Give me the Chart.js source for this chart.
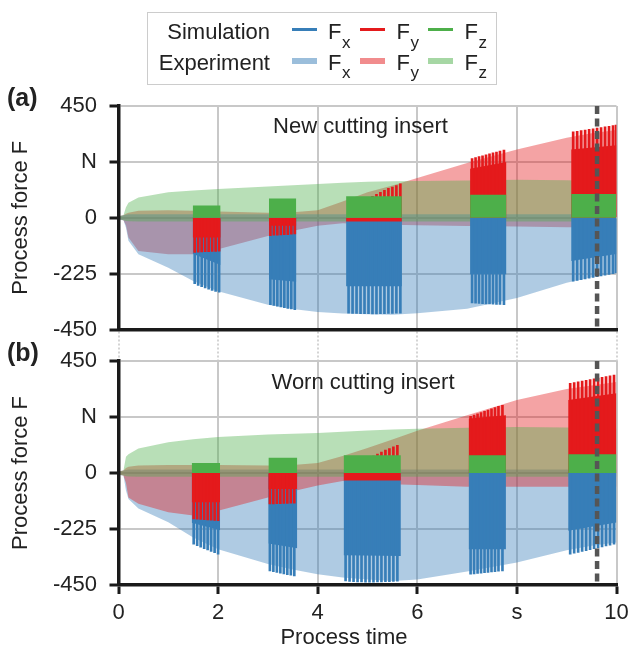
<!DOCTYPE html>
<html><head><meta charset="utf-8">
<script src="https://cdn.jsdelivr.net/npm/chart.js@4.4.1/dist/chart.umd.min.js"></script>
<style>
html,body{margin:0;padding:0;background:#fff;}
body{width:628px;height:646px;position:relative;overflow:hidden;font-family:"Liberation Sans",Arial,sans-serif;color:#222;}
canvas{position:absolute;left:0;top:0;}
.t{position:absolute;white-space:nowrap;font-size:22px;line-height:22px;}
.s{position:absolute;white-space:nowrap;font-size:17px;line-height:17px;}
.b{position:absolute;white-space:nowrap;font-size:25px;line-height:25px;font-weight:bold;}
.ln{position:absolute;width:25px;}
</style></head><body>
<canvas id="cA" width="628" height="646"></canvas>
<canvas id="cB" width="628" height="646"></canvas>

<div style="position:absolute;left:147px;top:12px;width:348px;height:71px;border:1.5px solid #ccc;"></div>
<div class="t" style="right:358px;top:21.4px;">Simulation</div>
<div class="t" style="right:358px;top:52.4px;">Experiment</div>
<div class="ln" style="left:292px;top:27.7px;height:3px;background:#377eb8"></div>
<div class="ln" style="left:360px;top:27.7px;height:3px;background:#e41a1c"></div>
<div class="ln" style="left:428px;top:27.7px;height:3px;background:#4daf4a"></div>
<div class="ln" style="left:292px;top:57.7px;height:6px;background:rgba(55,126,184,0.5)"></div>
<div class="ln" style="left:360px;top:57.7px;height:6px;background:rgba(228,26,28,0.5)"></div>
<div class="ln" style="left:428px;top:57.7px;height:6px;background:rgba(77,175,74,0.5)"></div>
<div class="t" style="left:328px;top:21.4px">F</div><div class="s" style="left:342px;top:33.9px">x</div>
<div class="t" style="left:396.5px;top:21.4px">F</div><div class="s" style="left:410.5px;top:33.9px">y</div>
<div class="t" style="left:464.5px;top:21.4px">F</div><div class="s" style="left:478.5px;top:33.9px">z</div>
<div class="t" style="left:328px;top:52.4px">F</div><div class="s" style="left:342px;top:63.9px">x</div>
<div class="t" style="left:396.5px;top:52.4px">F</div><div class="s" style="left:410.5px;top:63.9px">y</div>
<div class="t" style="left:464.5px;top:52.4px">F</div><div class="s" style="left:478.5px;top:63.9px">z</div>

<div class="b" style="left:7px;top:85.3px">(a)</div>
<div class="b" style="left:7px;top:340.3px">(b)</div>
<div class="t" style="left:244px;width:200px;text-align:center;top:626.4px">Process time</div>

<script>
// ---------- axis ticks ----------
const yTicks = [-450, -225, 0, 225, 450];
const yTickLabels = ['-450', '-225', '0', 'N', '450'];
const xTicks = [0, 2, 4, 6, 8, 10];
const xTickLabels = ['0', '2', '4', '6', 's', '10'];
const cutLineTime = 9.61;

// ---------- experiment envelopes (shared time grid) ----------
const tExp = [0, 0.1, 0.15, 0.2, 0.4, 1, 1.5, 2, 3, 3.5, 4, 4.5, 5, 5.5, 6, 7, 8, 9, 9.5, 10];
// new cutting insert
const fxExpLowNew  = [-8, -10, -40, -93, -147, -201, -255, -296, -350, -367, -380, -386, -389, -391, -385, -366, -323, -262, -240, -222];
const fxExpHighNew = [6, 10, 12, 14, 14, 14, 14, 14, 14, 14, 14, 14, 14, 14, 14, 14, 14, 14, 14, 14];
const fyExpLowNew  = [-6, -10, -30, -80, -134, -147, -147, -127, -73, -52, -32, -22, -25, -28, -30, -33, -35, -38, -38, -38];
const fyExpHighNew = [6, 10, 16, 20, 28, 30, 28, 25, 20, 22, 30, 65, 103, 130, 160, 220, 275, 322, 340, 353];
const fzExpLowNew  = [-6, -10, -13, -14, -15, -15, -15, -15, -15, -15, -15, -15, -15, -15, -15, -15, -15, -15, -15, -15];
const fzExpHighNew = [6, 10, 42, 60, 82, 103, 110, 116, 126, 131, 136, 141, 145, 147, 148, 150, 153, 151, 149, 147];
// worn cutting insert
const fxExpLowWorn  = [-8, -10, -70, -104, -143, -198, -259, -306, -366, -388, -407, -420, -428, -434, -428, -396, -360, -310, -292, -279];
const fxExpHighWorn = [6, 10, 12, 14, 14, 14, 14, 14, 14, 14, 14, 14, 14, 14, 14, 14, 14, 14, 14, 14];
const fyExpLowWorn  = [-6, -10, -40, -98, -124, -158, -171, -152, -98, -73, -50, -32, -40, -45, -48, -55, -55, -55, -55, -55];
const fyExpHighWorn = [6, 10, 20, 25, 30, 32, 32, 32, 30, 32, 40, 68, 100, 135, 170, 232, 293, 337, 352, 366];
const fzExpLowWorn  = [-6, -10, -13, -14, -15, -15, -15, -15, -15, -15, -15, -15, -15, -15, -15, -15, -15, -15, -15, -15];
const fzExpHighWorn = [6, 10, 65, 75, 98, 124, 136, 145, 155, 158, 161, 166, 171, 175, 178, 182, 185, 183, 181, 178];

// ---------- simulation windows ----------
const winStartNew = [1.49, 3.02, 4.57, 7.06, 9.09];
const winEndNew   = [2.05, 3.57, 5.69, 7.79, 10.0];
const fzSimNew      = [49, 78, 87, 93, 96];
const fySimStartNew = [-80, -32, -15, 197, 275];
const fySimEndNew   = [-80, -32, -15, 224, 292];
const fxSimStartNew = [-145, -248, -276, -228, -174];
const fxSimEndNew   = [-190, -258, -276, -228, -146];

const winStartWorn = [1.47, 3.01, 4.52, 7.03, 9.03];
const winEndWorn   = [2.04, 3.59, 5.67, 7.78, 10.0];
const fzSimWorn      = [40, 61, 71, 71, 75];
const fySimStartWorn = [-118, -64, -30, 219, 293];
const fySimEndWorn   = [-118, -64, -30, 232, 320];
const fxSimStartWorn = [-200, -283, -330, -306, -232];
const fxSimEndWorn   = [-230, -302, -333, -306, -199];

// ---------- simulation spikes ----------
const spikeTimesNew = [
  [1.53, 1.60, 1.67, 1.74, 1.81, 1.88, 1.95, 2.02],
  [3.05, 3.12, 3.19, 3.26, 3.33, 3.40, 3.47, 3.54],
  [4.62, 4.70, 4.78, 4.86, 4.94, 5.02, 5.10, 5.18, 5.26, 5.34, 5.42, 5.50, 5.58, 5.66],
  [7.10, 7.17, 7.24, 7.31, 7.38, 7.45, 7.52, 7.59, 7.66, 7.74],
  [9.13, 9.21, 9.29, 9.37, 9.45, 9.53, 9.61, 9.69, 9.77, 9.85, 9.93, 9.99]
];
const fxSpikeNew = [
  [-265, -272, -278, -283, -288, -293, -297, -300],
  [-350, -353, -356, -359, -362, -365, -367, -370],
  [-384, -385, -385, -386, -386, -386, -387, -387, -386, -386, -385, -385, -384, -384],
  [-343, -344, -345, -346, -347, -347, -348, -349, -349, -350],
  [-255, -252, -249, -246, -243, -240, -237, -234, -231, -228, -225, -222]
];
const fySpikeNew = [
  [-140, -139, -138, -137, -137, -136, -136, -135],
  [-72, -70, -70, -69, -68, -68, -66, -65],
  [40, 48, 55, 62, 70, 78, 86, 94, 102, 110, 118, 124, 130, 137],
  [238, 242, 246, 249, 253, 257, 261, 264, 268, 272],
  [346, 348, 351, 353, 356, 358, 361, 363, 366, 368, 371, 373]
];
const spikeTimesWorn = [
  [1.51, 1.58, 1.65, 1.72, 1.79, 1.86, 1.93, 2.00],
  [3.04, 3.11, 3.18, 3.25, 3.32, 3.39, 3.46, 3.53],
  [4.56, 4.64, 4.72, 4.80, 4.88, 4.96, 5.04, 5.12, 5.20, 5.28, 5.36, 5.44, 5.52, 5.60],
  [7.07, 7.14, 7.21, 7.28, 7.35, 7.42, 7.49, 7.56, 7.63, 7.71],
  [9.07, 9.15, 9.23, 9.31, 9.39, 9.47, 9.55, 9.63, 9.71, 9.79, 9.87, 9.95]
];
const fxSpikeWorn = [
  [-286, -292, -298, -304, -309, -315, -320, -326],
  [-393, -396, -399, -402, -405, -408, -411, -414],
  [-434, -436, -437, -438, -438, -439, -439, -439, -438, -438, -437, -437, -436, -435],
  [-406, -405, -403, -402, -400, -399, -397, -396, -394, -393],
  [-326, -322, -319, -315, -312, -308, -304, -301, -297, -293, -290, -286]
];
const fySpikeWorn = [
  [-185, -186, -187, -188, -189, -190, -191, -192],
  [-124, -124, -123, -123, -122, -122, -121, -121],
  [20, 26, 33, 40, 47, 54, 61, 68, 76, 84, 92, 98, 105, 111],
  [228, 233, 238, 243, 248, 253, 258, 263, 268, 272],
  [360, 363, 366, 369, 372, 375, 378, 381, 384, 387, 390, 393]
];

// ---------- styles ----------
const C_BLUE = '#377eb8', C_RED = '#e41a1c', C_GREEN = '#4daf4a';
const A_BLUE = 'rgba(55,126,184,0.4)', A_RED = 'rgba(228,26,28,0.4)', A_GREEN = 'rgba(77,175,74,0.4)';
const FONT = '"Liberation Sans", Arial, sans-serif';
Chart.defaults.font.family = FONT;
Chart.defaults.color = '#222';

function lineBase() {
  return {type: 'line', borderWidth: 0, borderColor: 'rgba(0,0,0,0)', pointRadius: 0, pointHoverRadius: 0, tension: 0};
}
function band(lo, hi, color, order) {
  return [
    Object.assign(lineBase(), {data: tExp.map((t, i) => ({x: t, y: lo[i]})), fill: false, order: 30}),
    Object.assign(lineBase(), {data: tExp.map((t, i) => ({x: t, y: hi[i]})), fill: '-1', backgroundColor: color, order})
  ];
}
function blocks(starts, ends, vA, vB, color, order) {
  return starts.map((s, i) => Object.assign(lineBase(), {
    data: [{x: s, y: vA[i]}, {x: ends[i], y: vB[i]}], fill: 'origin', backgroundColor: color, order
  }));
}
function spikes(times, tips, color, order) {
  const data = [];
  times.forEach((w, wi) => w.forEach((t, j) => data.push({x: t, y: [0, tips[wi][j]]})));
  return {type: 'bar', data, backgroundColor: color, barThickness: 2, grouped: false, borderWidth: 0, order};
}
function cutLine() {
  return Object.assign(lineBase(), {
    data: [{x: cutLineTime, y: 450}, {x: cutLineTime, y: -450}],
    borderWidth: 4.5, borderColor: '#555555', borderDash: [8, 4.5], borderCapStyle: 'butt', fill: false, order: 0
  });
}

const textPlugin = {
  id: 'panelText',
  afterDatasetsDraw(chart, args, opts) {
    const {ctx} = chart; const x = chart.scales.x, y = chart.scales.y;
    ctx.save();
    ctx.font = '22px ' + FONT;
    ctx.fillStyle = '#222';
    ctx.textAlign = 'center';
    ctx.textBaseline = 'alphabetic';
    ctx.fillText(opts.text, x.getPixelForValue(opts.x), y.getPixelForValue(opts.y));
    ctx.restore();
  }
};

function yScale() {
  return {
    type: 'linear', min: -450, max: 450, offset: false,
    afterBuildTicks: s => { s.ticks = yTicks.map(v => ({value: v})); },
    afterFit: s => { s.width = 115; },
    ticks: {font: {size: 22}, color: '#222', padding: 12.5, callback: v => yTickLabels[yTicks.indexOf(v)]},
    grid: {color: '#c8c8c8', lineWidth: 2, tickLength: 9, tickWidth: 3, tickColor: '#1a1a1a', offset: false},
    border: {display: true, color: '#1a1a1a', width: 3.5, z: 1},
    title: {display: true, text: 'Process force F', font: {size: 22}, color: '#222', padding: {top: 4, bottom: 4}}
  };
}
function xScale(bottom) {
  const s = {
    type: 'linear', min: 0, max: 10, offset: false,
    afterBuildTicks: sc => { sc.ticks = xTicks.map(v => ({value: v})); },
    grid: {color: '#c8c8c8', lineWidth: 2, offset: false},
    border: {display: true, color: '#1a1a1a', width: 3.5, z: 1}
  };
  if (bottom) {
    s.afterFit = sc => { sc.height = 61; sc.paddingLeft = 0; sc.paddingRight = 0; };
    s.ticks = {font: {size: 22}, color: '#222', padding: 6, maxRotation: 0, autoSkip: false,
               callback: v => xTickLabels[xTicks.indexOf(v)]};
    s.grid.tickLength = 9; s.grid.tickWidth = 3; s.grid.tickColor = '#1a1a1a';
  } else {
    s.afterFit = sc => { sc.height = 31.5; sc.paddingLeft = 0; sc.paddingRight = 0; };
    s.ticks = {display: false};
    s.grid.tickLength = 31.5; s.grid.tickWidth = 2; s.grid.tickColor = '#d4d4d4'; s.grid.tickBorderDash = [2, 2];
  }
  return s;
}

function panel(id, pad, d, text, bottomAxis) {
  const datasets = [].concat(
    [cutLine()],
    blocks(d.ws, d.we, d.fz, d.fz, C_GREEN, 1),
    [spikes(d.st, d.fyS, C_RED, 2)],
    blocks(d.ws, d.we, d.fyA, d.fyB, C_RED, 3),
    [spikes(d.st, d.fxS, C_BLUE, 4)],
    blocks(d.ws, d.we, d.fxA, d.fxB, C_BLUE, 5),
    band(d.fzLo, d.fzHi, A_GREEN, d.oz),
    band(d.fyLo, d.fyHi, A_RED, d.oy),
    band(d.fxLo, d.fxHi, A_BLUE, d.ox)
  );
  return new Chart(document.getElementById(id), {
    type: 'line',
    data: {datasets},
    options: {
      responsive: false, animation: false, devicePixelRatio: 1,
      layout: {padding: pad},
      plugins: {legend: {display: false}, tooltip: {enabled: false}, panelText: text},
      scales: {x: xScale(bottomAxis), y: yScale()}
    },
    plugins: [textPlugin]
  });
}

panel('cA', {left: 3.5, top: 106, right: 11.5, bottom: 285}, {
  ws: winStartNew, we: winEndNew, fz: fzSimNew, fyA: fySimStartNew, fyB: fySimEndNew,
  fxA: fxSimStartNew, fxB: fxSimEndNew, st: spikeTimesNew, fxS: fxSpikeNew, fyS: fySpikeNew,
  fzLo: fzExpLowNew, fzHi: fzExpHighNew, fyLo: fyExpLowNew, fyHi: fyExpHighNew,
  fxLo: fxExpLowNew, fxHi: fxExpHighNew, oz: 10, ox: 11, oy: 12
}, {text: 'New cutting insert', x: 4.86, y: 342}, false);

panel('cB', {left: 3.5, top: 361, right: 11.5, bottom: 0}, {
  ws: winStartWorn, we: winEndWorn, fz: fzSimWorn, fyA: fySimStartWorn, fyB: fySimEndWorn,
  fxA: fxSimStartWorn, fxB: fxSimEndWorn, st: spikeTimesWorn, fxS: fxSpikeWorn, fyS: fySpikeWorn,
  fzLo: fzExpLowWorn, fzHi: fzExpHighWorn, fyLo: fyExpLowWorn, fyHi: fyExpHighWorn,
  fxLo: fxExpLowWorn, fxHi: fxExpHighWorn, oz: 10, oy: 11, ox: 12
}, {text: 'Worn cutting insert', x: 4.91, y: 337}, true);
</script>
</body></html>
